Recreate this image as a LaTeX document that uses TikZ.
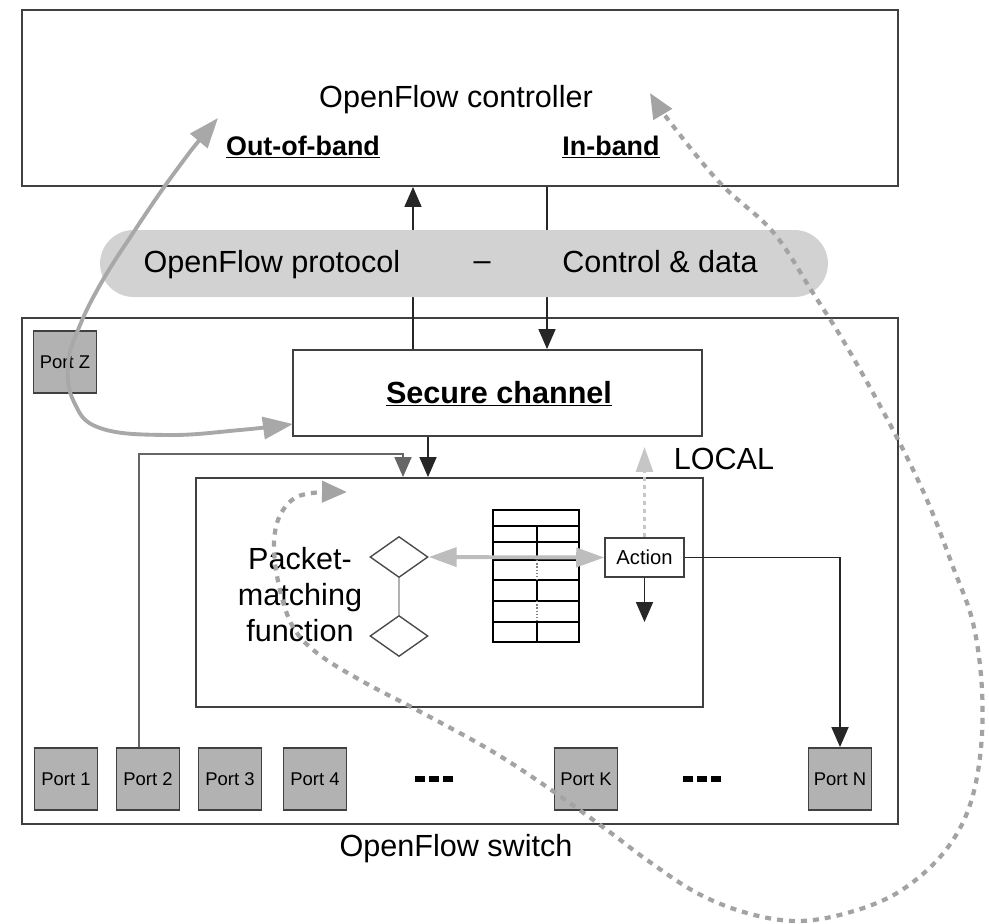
\documentclass[tikz,border=0pt]{standalone}
\usepackage{fontspec}
\setmainfont{Liberation Sans}
\usetikzlibrary{arrows.meta,shapes.geometric}

\begin{document}
\begin{tikzpicture}[x=0.02cm, y=-0.02cm]

            % Stijlen voor kaders, poorten en pijlen
            \tikzset{
                box/.style={draw=black!75, line width=1.1pt, inner sep=0pt},
                port/.style={box, fill=gray!60, minimum width=1.26cm, minimum height=1.24cm, font=\fontsize{10.5}{12}\selectfont},
                match/.style={diamond, draw=black!70, line width=0.8pt, minimum width=1.16cm, minimum height=0.82cm, inner sep=0pt},
                flow/.style={draw=black!85, line width=1pt, -{Triangle[length=0.4cm, width=0.34cm]}},
                bigtext/.style={font=\fontsize{17.4}{20.5}\selectfont},
                bandtext/.style={font=\fontsize{15.3}{18}\selectfont\bfseries},
                tbl/.style={draw=black, line width=1pt},
                dots/.style={draw=black, line width=3.4pt, dash pattern=on 0.2cm off 0.08cm},
                tablearrow/.style={draw=gray!52, line width=2.2pt, {Triangle[length=0.56cm, width=0.38cm]}-{Triangle[length=0.56cm, width=0.38cm]}},
                oob/.style={draw=gray!68, line width=2.2pt, {Triangle[length=0.6cm, width=0.44cm]}-{Triangle[length=0.6cm, width=0.44cm]}},
                inband/.style={draw=gray!72, line width=2.4pt, dash pattern=on 0.12cm off 0.12cm, {Triangle[length=0.5cm, width=0.42cm]}-{Triangle[length=0.5cm, width=0.42cm]}},
                localflow/.style={draw=gray!45, line width=1.6pt, dash pattern=on 0.08cm off 0.08cm, -{Triangle[length=0.5cm, width=0.34cm]}}
            }

            \useasboundingbox (0,0) rectangle (989,923);

            % --- KADERS ---
            % Controller bovenaan
            \node[box, minimum width=17.52cm, minimum height=3.52cm] (ctrl) at (460,98) {};
            \node[bigtext, anchor=base] (ctrltxt) at (456,107) {OpenFlow controller};
            \node[bandtext, anchor=base] (oobtxt) at (303,155) {\underline{Out-of-band}};
            \node[bandtext, anchor=base] (ibtxt) at (611,155) {\underline{In-band}};

            % Switch onderaan
            \node[box, minimum width=17.52cm, minimum height=10.12cm] (switch) at (460,571) {};
            \node[bigtext, anchor=base] (switchtxt) at (456,856) {OpenFlow switch};

            % Secure channel en het matching-blok
            \node[box, minimum width=8.18cm, minimum height=1.72cm] (secure) at (497.5,393) {};
            \node[bigtext, anchor=base] (securetxt) at (499,403) {\textbf{\underline{Secure channel}}};
            \node[box, minimum width=10.14cm, minimum height=4.58cm] (inner) at (449.5,592.5) {};
            \node[bigtext, align=center] (pmf) at (300,595) {Packet-\\matching\\function};
            \node[bigtext, anchor=base] (local) at (724,469) {LOCAL};

            % --- POORTEN ---
            \foreach \name/\x/\txt in {p1/66/Port 1, p2/148/Port 2, p3/230/Port 3, p4/315/Port 4, pk/586/Port K, pn/840/Port N} {
                \node[port] (\name) at (\x,779) {\txt};
            }
            \node[port] (pz) at (65,362) {Port Z};

            % Puntjes tussen de poorten
            \draw[dots] (415,779) -- (455,779);
            \draw[dots] (683,779) -- (723,779);

            % --- MATCHING EN FLOW TABLE ---
            \node[match] (m1) at (399,557) {};
            \node[match] (m2) at (399,636) {};
            \draw[draw=gray!60, line width=1pt] (m1.south) -- (m2.north);

            \draw[tbl] (493,510) rectangle (579,642);
            \foreach \y in {526,542,560,580,601,622} {
                \draw[tbl] (493,\y) -- (579,\y);
            }
            \foreach \a/\b in {526/560, 580/601, 622/642} {
                \draw[tbl] (537,\a) -- (537,\b);
            }
            \foreach \a/\b in {560/580, 601/622} {
                \draw[draw=gray, line width=0.8pt, densely dotted] (537,\a) -- (537,\b);
            }

            \node[box, line width=0.9pt, minimum width=1.58cm, minimum height=0.78cm, font=\fontsize{11.5}{13}\selectfont] (action) at (644.5,557.5) {Action};

            % --- PIJLEN ---
            \coordinate (upx) at (413,0);
            \coordinate (downx) at (547,0);
            \coordinate (feedx) at (428,0);
            \coordinate (lanx) at (403,0);
            \coordinate (bend) at (139,454);
            \coordinate (drop) at (644.5,622);

            \draw[flow] (secure.north -| upx) -- (ctrl.south -| upx);
            \draw[flow] (ctrl.south -| downx) -- (secure.north -| downx);
            \draw[flow] (secure.south -| feedx) -- (inner.north -| feedx);
            \draw[flow, draw=black!60] (p2.north -| bend) -- (bend) -| (inner.north -| lanx);
            \draw[flow] (action.south) -- (drop);
            \draw[flow] (action.east) -| (pn.north);
            \draw[localflow, shorten >=0.2cm] (action.north) -- (secure.south -| action.north);
            \draw[tablearrow] (m1.east) -- (action.west);

            % --- PROTOCOL-BALK ---
            \node[fill=gray!35, minimum width=14.56cm, minimum height=1.34cm, rounded corners=0.67cm] (proto) at (464,263.5) {};
            \node[bigtext, anchor=base] (prototxt) at (272,272) {OpenFlow protocol};
            \node[bigtext, anchor=base] (dash) at (482,270) {--};
            \node[bigtext, anchor=base] (datatxt) at (660,272) {Control \& data};

            % --- OUT-OF-BAND EN IN-BAND ---
            \coordinate (oobctrl) at (218,118);
            \coordinate (oobsec) at (293,424);
            \draw[oob] plot[smooth, tension=0.7] coordinates {(oobctrl) (175,172) (133,233) (100,285) (78,330) (68,365) (74,402) (100,428) (167,435) (240,430) (oobsec)};

            \coordinate (ibctrl) at (650,93);
            \coordinate (ibmatch) at (347,492);
            \draw[inband] plot[smooth, tension=0.6] coordinates {(ibctrl) (670,122) (720,183) (773,232) (813,293) (847,347) (893,430) (927,500) (953,567) (973,623) (982,690) (980,757) (967,813) (940,857) (897,893) (847,913) (797,921) (747,913) (697,893) (647,860) (607,830) (547,787) (490,750) (417,710) (360,680) (317,653) (293,627) (280,590) (274,550) (278,520) (292,500) (312,493) (ibmatch)};

\end{tikzpicture}
\end{document}
